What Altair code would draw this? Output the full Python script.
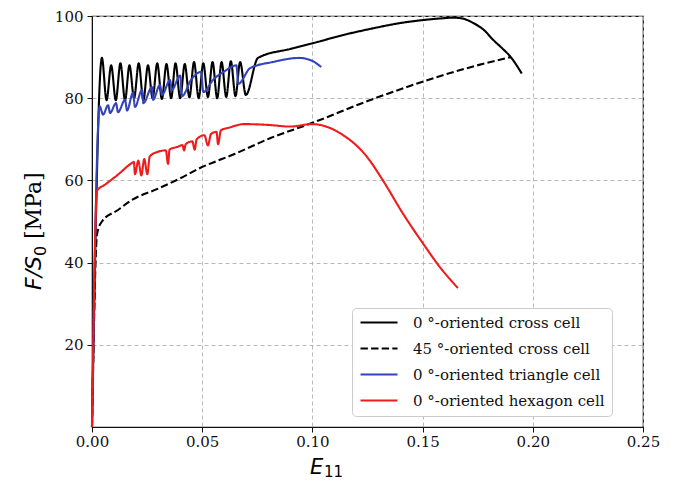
import altair as alt
import pandas as pd

series = ["0 °-oriented cross cell", "45 °-oriented cross cell",
          "0 °-oriented triangle cell", "0 °-oriented hexagon cell"]
colors = ["#000000", "#000000", "#3344bb", "#ee1c1c"]
dashes = [[1, 0], [7.4, 3.2], [1, 0], [1, 0]]

x_ticks = [0.0, 0.05, 0.10, 0.15, 0.20, 0.25]
y_ticks = [20, 40, 60, 80, 100]

cross0_x = [0, 0.0045, 0.0066, 0.0087, 0.0108, 0.0129, 0.0150, 0.0170, 0.0191, 0.0212,
            0.0233, 0.0254, 0.0275, 0.0296, 0.0317, 0.0338, 0.0359, 0.0379, 0.0400, 0.0421,
            0.0442, 0.0463, 0.0484, 0.0505, 0.0526, 0.0547, 0.0568, 0.0588, 0.0609, 0.0630,
            0.0651, 0.0672, 0.0698, 0.0753, 0.090, 0.1003, 0.115, 0.1275,
            0.140, 0.150, 0.158, 0.164, 0.168, 0.173, 0.178, 0.182, 0.186, 0.190, 0.195]
cross0_y = [0, 89.8, 79.5, 88.0, 79.5, 88.5, 79.5, 88.0, 80.0, 88.5,
            79.5, 88.0, 80.0, 88.5, 79.8, 88.3, 80.0, 88.5, 80.0, 88.3,
            80.2, 88.8, 80.0, 88.5, 80.3, 88.8, 80.0, 88.8, 80.3, 89.0,
            80.5, 88.8, 80.8, 89.8, 92.0, 93.4, 95.5, 97.0,
            98.3, 99.0, 99.4, 99.6, 99.4, 98.3, 96.5, 94.2, 92.2, 90.0, 86.0]

cross45_x = [0, 0.0023, 0.0045, 0.0118, 0.018, 0.030, 0.040, 0.049, 0.065, 0.081,
             0.100, 0.125, 0.150, 0.170, 0.190]
cross45_y = [0, 47, 50, 52.8, 55.2, 58, 60.5, 63, 66.5, 70.3,
             74, 79.3, 84, 87.3, 90]

tri_x = [0, 0.0035, 0.0050, 0.0073, 0.0082, 0.0109, 0.0118, 0.0150, 0.0159, 0.0186,
         0.0195, 0.0227, 0.0233, 0.0272, 0.0277, 0.0308, 0.0318, 0.0354, 0.0362, 0.0400,
         0.0408, 0.0450, 0.0495, 0.0505, 0.0550, 0.0600, 0.0655, 0.0664, 0.0717, 0.0820,
         0.0940, 0.0990, 0.1040]
tri_y = [0, 78, 76, 78.3, 76.4, 78.8, 76.6, 79.6, 77, 81.3,
         77.9, 82, 78.8, 82.7, 79.6, 83.2, 80.8, 84.4, 82.0, 85.5,
         80.5, 84.5, 86.4, 81.5, 84.5, 86.5, 88.0, 83.5, 87.3, 88.8,
         89.8, 89.3, 87.6]

hex_x = [0, 0.0023, 0.006, 0.012, 0.0175, 0.0190, 0.0195, 0.021, 0.0224, 0.0237,
         0.0251, 0.0262, 0.029, 0.0335, 0.0345, 0.0352, 0.039, 0.041, 0.0418, 0.0425,
         0.0455, 0.0466, 0.0475, 0.051, 0.0526, 0.054, 0.0565, 0.0572, 0.0585, 0.062,
         0.069, 0.080, 0.090, 0.0998, 0.105, 0.1125, 0.1248, 0.132, 0.141, 0.150,
         0.158, 0.166]
hex_y = [0, 57.5, 59, 61.5, 64, 64.5, 61.5, 64.8, 61.2, 65.2,
         61.5, 65.8, 66.8, 67.3, 64, 67.5, 68.2, 68.6, 67.3, 68.8,
         69.5, 67.5, 70, 71, 68.5, 71.3, 71.8, 68.8, 72.2, 72.8,
         73.7, 73.5, 73.1, 73.7, 73.3, 71.5, 65.7, 60, 52, 44.8,
         38.8, 33.8]

y_title_parts = ["F/S", "0", "[MPa]"]
x_title_parts = ["E", "11"]

rows = []
for name, xs, ys in zip(series, [cross0_x, cross45_x, tri_x, hex_x],
                        [cross0_y, cross45_y, tri_y, hex_y]):
    for i, (xv, yv) in enumerate(zip(xs, ys)):
        rows.append({"series": name, "E11": xv, "F": yv, "i": i})
df = pd.DataFrame(rows)

legend = alt.Legend(
    orient="none", legendX=260, legendY=292, title=None,
    symbolType="stroke", symbolSize=1369, symbolStrokeWidth=2.2, clipHeight=15,
    rowPadding=10, labelFont="DejaVu Serif", labelFontSize=15, labelColor="#111",
    labelOffset=14, padding=7, fillColor="white", strokeColor="#cccccc",
    cornerRadius=4, labelLimit=400,
)

lines = alt.Chart(df).mark_line(strokeWidth=2.1, interpolate="monotone").encode(
    x=alt.X("E11:Q", scale=alt.Scale(domain=[0, 0.25], nice=False, zero=False),
            axis=alt.Axis(values=x_ticks, format=".2f", title=None, labelFlush=False,
                          labelPadding=2)),
    y=alt.Y("F:Q", scale=alt.Scale(domain=[0, 100], nice=False),
            axis=alt.Axis(values=y_ticks, title=None, labelFlush=False)),
    color=alt.Color("series:N", scale=alt.Scale(domain=series, range=colors),
                    legend=legend, title=None),
    strokeDash=alt.StrokeDash("series:N", scale=alt.Scale(domain=series, range=dashes),
                              legend=legend, title=None),
    order="i:Q",
)


def txt(s, x, y, size, font, style="normal", angle=0, align="left"):
    return alt.Chart(pd.DataFrame({"t": [s]})).mark_text(
        font=font, fontSize=size, fontStyle=style, angle=angle, align=align,
        baseline="alphabetic", color="#000000"
    ).encode(text="t:N", x=alt.value(x), y=alt.value(y))


titles = [
    txt(y_title_parts[0], -51, 274, 22, "DejaVu Sans", "italic", 270),
    txt(y_title_parts[1], -46, 240, 16, "DejaVu Sans", "normal", 270),
    txt(y_title_parts[2], -51, 223, 22, "DejaVu Serif", "normal", 270),
    txt(x_title_parts[0], 218, 458, 21, "DejaVu Sans", "italic"),
    txt(x_title_parts[1], 232, 461, 15, "DejaVu Sans"),
]

chart = alt.layer(lines, *titles).properties(
    width=551, height=411,
    autosize=alt.AutoSizeParams(type="none"),
    padding={"left": 84, "top": 8, "right": 20, "bottom": 55},
).configure_view(
    stroke="#111111", strokeWidth=1.2
).configure_axis(
    labelFont="DejaVu Serif", labelFontSize=15, labelColor="#111111",
    domainColor="#111111", tickColor="#111111", tickSize=5, labelPadding=4,
    gridColor="#b0b0b0", gridDash=[4, 3], gridWidth=0.9, gridOpacity=1,
)

chart.save("out.html", embed_options={"renderer": "svg", "actions": False})
